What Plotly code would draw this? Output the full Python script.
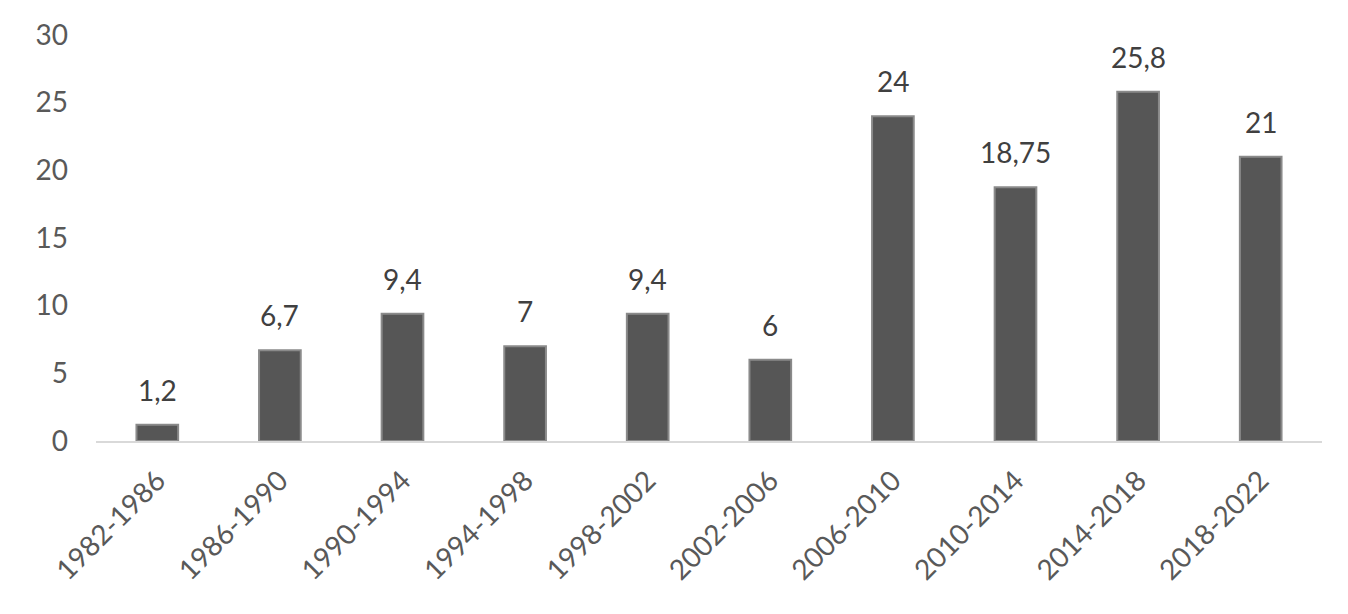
import plotly.graph_objects as go

periods = ["1982-1986", "1986-1990", "1990-1994", "1994-1998", "1998-2002",
           "2002-2006", "2006-2010", "2010-2014", "2014-2018", "2018-2022"]
values = [1.2, 6.7, 9.4, 7, 9.4, 6, 24, 18.75, 25.8, 21]
value_labels = ["1,2", "6,7", "9,4", "7", "9,4", "6", "24", "18,75", "25,8", "21"]

fig = go.Figure(
    go.Bar(
        x=periods,
        y=values,
        marker=dict(color="#565656", line=dict(color="#8a8a8a", width=2)),
    )
)

# value labels above the bars
for p, v, lab in zip(periods, values, value_labels):
    fig.add_annotation(
        x=p, y=v, text=lab, showarrow=False,
        yanchor="bottom", yshift=16,
        font=dict(size=28, color="#404040"),
    )

# page body adds an 8px offset, so the figure is slightly smaller than the window
fig.update_layout(
    width=1340,
    height=606,
    margin=dict(l=88, r=26, t=27, b=173),
    plot_bgcolor="white",
    paper_bgcolor="white",
    bargap=0.66,
    showlegend=False,
    font=dict(family="Lato, Open Sans, sans-serif", color="#595959"),
)
fig.update_yaxes(
    range=[0, 30],
    dtick=5,
    showgrid=False,
    zeroline=False,
    showline=False,
    automargin=False,
    tickfont=dict(size=28, color="#595959"),
    ticklabelstandoff=27,
)
fig.update_xaxes(
    showline=True,
    linecolor="#d9d9d9",
    linewidth=2,
    automargin=False,
    tickangle=-45,
    tickfont=dict(size=28, color="#595959"),
    ticks="",
    ticklabelstandoff=10,
)

fig.write_html("out.html")
